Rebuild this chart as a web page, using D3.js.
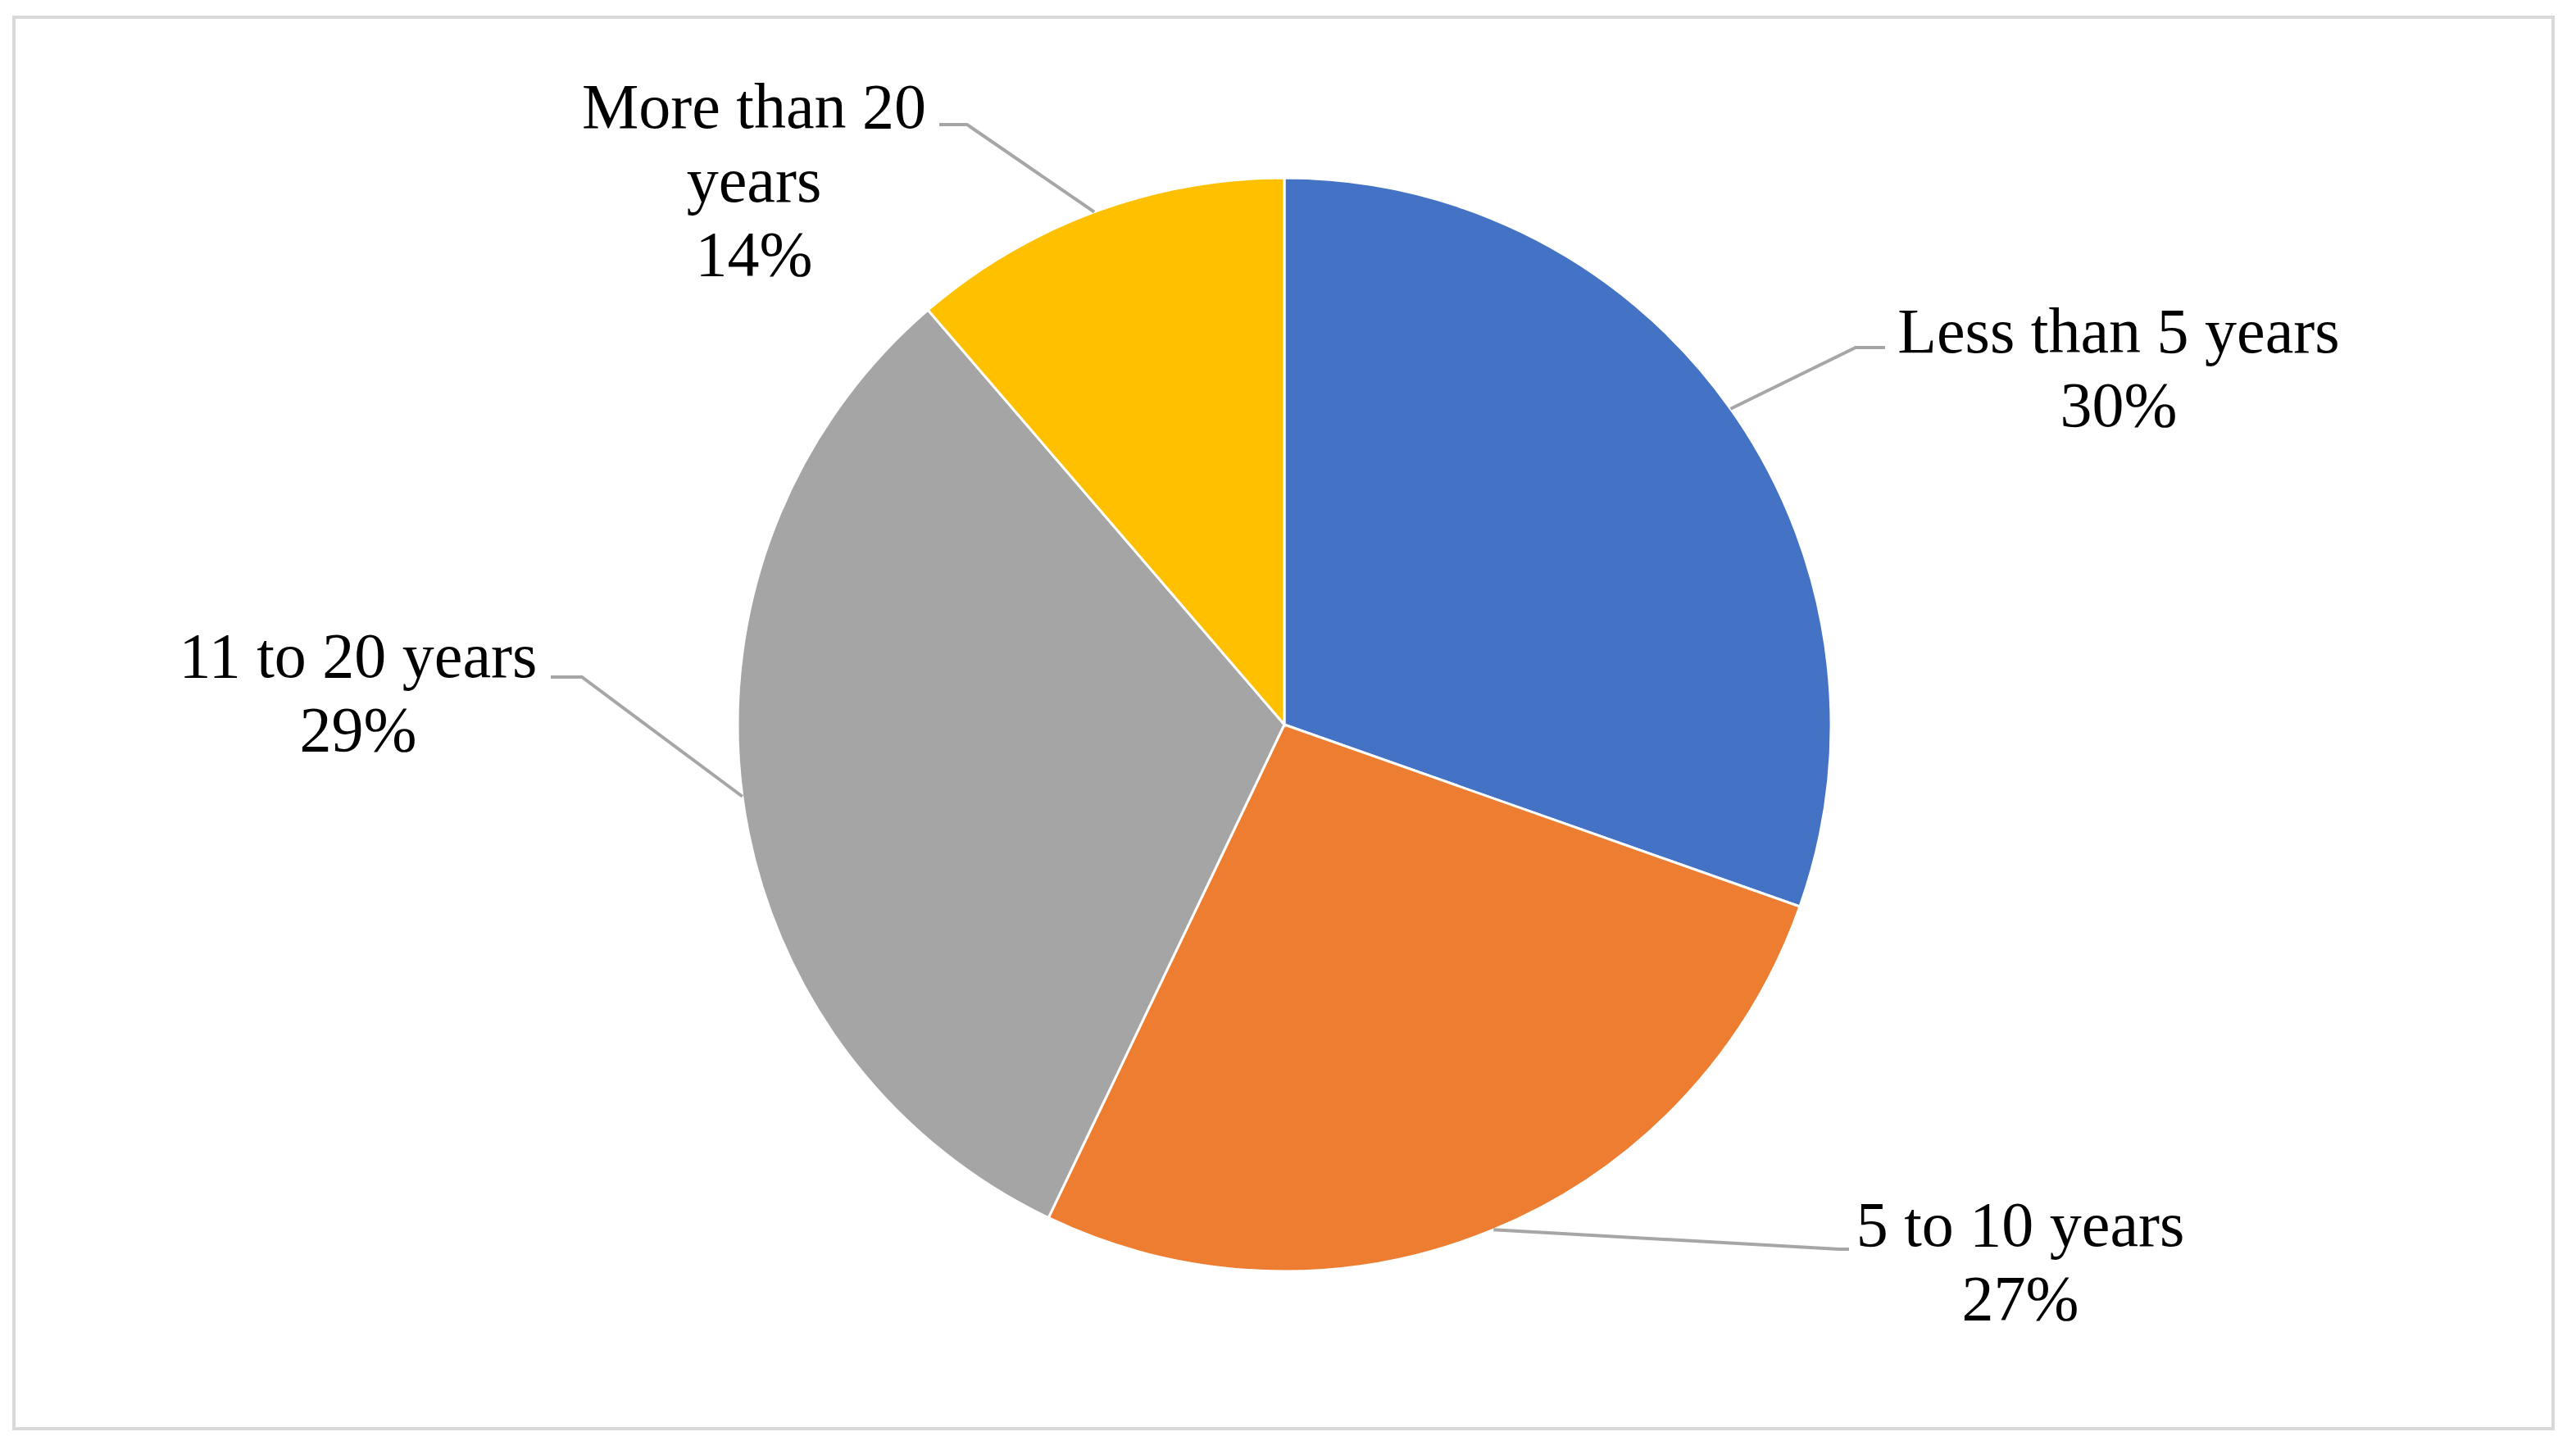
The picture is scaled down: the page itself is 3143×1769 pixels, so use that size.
<!DOCTYPE html>
<html>
<head>
<meta charset="utf-8">
<script src="https://cdn.jsdelivr.net/npm/d3@7"></script>
<style>
  html, body { margin: 0; padding: 0; background: #fff; }
  svg { display: block; }
</style>
</head>
<body>
<svg id="chart" width="3143" height="1769"></svg>
<script>
// categories, slice shares and printed labels
const categories = ["Less than 5 years", "5 to 10 years", "11 to 20 years", "More than 20 years"];
const shares = [30.4, 26.7, 31.6, 11.3];
const percentLabels = ["30%", "27%", "29%", "14%"];
const labelLines = [["Less than 5 years"], ["5 to 10 years"], ["11 to 20 years"], ["More than 20", "years"]];
const colors = ["#4472C4", "#ED7D31", "#A5A5A5", "#FFC000"];

// layout for the callout labels (text centre x, first baseline y, elbow, line end)
const labelLayout = [
  { x: 2585, y: 430, elbow: [2264, 424], end: 2300 },
  { x: 2465, y: 1520, elbow: [2244, 1524], end: 2256 },
  { x: 437, y: 826, elbow: [710, 826], end: 672 },
  { x: 920, y: 156, elbow: [1180, 152], end: 1146 }
];

const svg = d3.select("#chart");
const cx = 1567, cy = 884, r = 667;
const lineH = 90;

// frame
svg.append("rect")
  .attr("x", 17).attr("y", 21)
  .attr("width", 3098).attr("height", 1722)
  .attr("fill", "#fff")
  .attr("stroke", "#D9D9D9")
  .attr("stroke-width", 4);

const pie = d3.pie().sort(null).value((d) => d);
const arcs = pie(shares);
const arc = d3.arc().innerRadius(0).outerRadius(r);

const g = svg.append("g").attr("transform", `translate(${cx},${cy})`);
g.selectAll("path")
  .data(arcs)
  .enter()
  .append("path")
  .attr("d", arc)
  .attr("fill", (d, i) => colors[i])
  .attr("stroke", "#fff")
  .attr("stroke-width", 3);

// leader lines + labels
arcs.forEach((a, i) => {
  const mid = (a.startAngle + a.endAngle) / 2;
  const sx = cx + r * Math.sin(mid);
  const sy = cy - r * Math.cos(mid);
  const L = labelLayout[i];
  svg.append("polyline")
    .attr("points", `${sx},${sy} ${L.elbow[0]},${L.elbow[1]} ${L.end},${L.elbow[1]}`)
    .attr("fill", "none")
    .attr("stroke", "#A6A6A6")
    .attr("stroke-width", 4);

  const lines = labelLines[i].concat([percentLabels[i]]);
  const t = svg.append("text")
    .attr("text-anchor", "middle")
    .attr("font-family", "'Liberation Serif', 'Times New Roman', serif")
    .attr("font-size", 78)
    .attr("fill", "#000");
  lines.forEach((s, j) => {
    t.append("tspan").attr("x", L.x).attr("y", L.y + j * lineH).text(s);
  });
});
</script>
</body>
</html>
